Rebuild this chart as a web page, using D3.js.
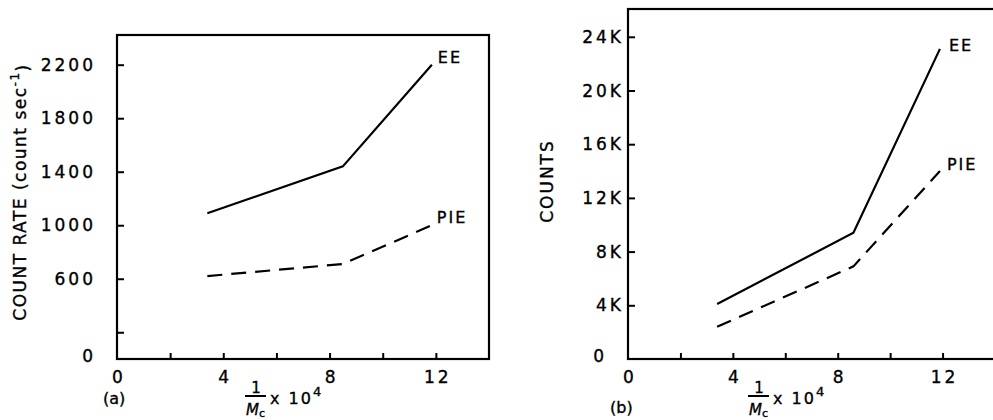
<!DOCTYPE html>
<html><head><meta charset="utf-8">
<script src="https://cdn.jsdelivr.net/npm/d3@7"></script>
<style>
body{margin:0;background:#fff}
svg{display:block}
text{font-family:"DejaVu Sans",sans-serif;fill:#000;stroke:#000;stroke-width:0.35px}
</style>
</head><body>
<svg id="c" width="993" height="420"></svg>
<script>
// ---- data ----
const xTicks = [2, 4, 6, 8, 10, 12];
const xTickLabels = [0, 4, 8, 12];

const aYTicks = [200, 600, 1000, 1400, 1800, 2200];
const aYTickLabels = [0, 600, 1000, 1400, 1800, 2200];
const aX = [3.4, 8.5, 11.85];
const aEE = [1090, 1440, 2200];
const aPIE = [620, 710, 1000];

const bYTicks = [4000, 8000, 12000, 16000, 20000, 24000];
const bYTickValues = [0, 4000, 8000, 12000, 16000, 20000, 24000];
const bYTickText = ["0", "4K", "8K", "12K", "16K", "20K", "24K"];
const bX = [3.4, 8.6, 11.9];
const bEE = [4100, 9400, 23100];
const bPIE = [2400, 6900, 14000];

const seriesNames = ["EE", "PIE"];

const svg = d3.select("#c");

function panel(cfg) {
  const x = d3.scaleLinear().domain([0, 14]).range([cfg.left, cfg.right]);
  const y = d3.scaleLinear().domain([0, cfg.yMax]).range([cfg.bottom, cfg.top]);
  const g = svg.append("g");

  // frame
  g.append("rect")
    .attr("x", cfg.left).attr("y", cfg.top)
    .attr("width", cfg.right - cfg.left).attr("height", cfg.bottom - cfg.top)
    .attr("fill", "none").attr("stroke", "#000").attr("stroke-width", 2.2);

  // y ticks (inward)
  g.append("g").attr("transform", `translate(${cfg.left},0)`)
    .call(d3.axisLeft(y).tickValues(cfg.yTicks).tickSize(-7).tickFormat(""))
    .call(s => { s.select(".domain").remove(); s.selectAll("line").attr("stroke-width", 2); });

  // x ticks (inward)
  g.append("g").attr("transform", `translate(0,${cfg.bottom})`)
    .call(d3.axisBottom(x).tickValues(xTicks).tickSize(-6).tickFormat(""))
    .call(s => { s.select(".domain").remove(); s.selectAll("line").attr("stroke-width", 2); });

  // y tick labels
  g.selectAll(".yl").data(cfg.yLabels).enter().append("text")
    .attr("x", (d, i) => cfg.left - cfg.yPad - (d.v === 0 ? cfg.zeroShift : 0))
    .attr("y", d => y(d.v) - (d.v === 0 ? 3 : 0))
    .attr("dy", "0.36em")
    .attr("text-anchor", "end")
    .attr("font-size", 17)
    .attr("letter-spacing", 3)
    .text(d => d.t);

  // x tick labels
  g.selectAll(".xl").data(xTickLabels).enter().append("text")
    .attr("x", d => x(d) + 2)
    .attr("y", 377)
    .attr("dy", "0.36em")
    .attr("text-anchor", "middle")
    .attr("font-size", 17)
    .attr("letter-spacing", 3)
    .text(d => d);

  // lines
  const line = d3.line().x(d => x(d[0])).y(d => y(d[1]));
  const ee = cfg.xs.map((v, i) => [v, cfg.ee[i]]);
  const pie = cfg.xs.map((v, i) => [v, cfg.pie[i]]);
  g.append("path").attr("d", line(ee)).attr("fill", "none")
    .attr("stroke", "#000").attr("stroke-width", 2.2);
  g.append("path").attr("d", line(pie)).attr("fill", "none")
    .attr("stroke", "#000").attr("stroke-width", 2.2)
    .attr("stroke-dasharray", "15,9");

  // series labels
  [[ee, seriesNames[0], cfg.eeOff], [pie, seriesNames[1], cfg.pieOff]].forEach(([pts, name, off]) => {
    const p = pts[pts.length - 1];
    g.append("text")
      .attr("x", x(p[0]) + off[0]).attr("y", y(p[1]) + off[1])
      .attr("dy", "0.36em").attr("font-size", 16).attr("letter-spacing", 2)
      .text(name);
  });

  // panel letter
  g.append("text").attr("x", cfg.letterPos[0]).attr("y", cfg.letterPos[1])
    .attr("dy", "0.36em").attr("font-size", 16).text(cfg.letter);

  // y axis title
  const yt = g.append("text")
    .attr("transform", `translate(${cfg.yTitlePos[0]},${cfg.yTitlePos[1]}) rotate(-90)`)
    .attr("text-anchor", "middle").attr("dy", "0.36em")
    .attr("font-size", 17).attr("letter-spacing", cfg.yTitleLS);
  cfg.yTitle(yt);

  // x axis title: 1/Mc x 10^4
  const xl = g.append("g").attr("transform", `translate(${cfg.xTitleX},0)`);
  xl.append("text").attr("x", 11).attr("y", 388).attr("dy", "0.36em")
    .attr("text-anchor", "middle").attr("font-size", 15).text("1");
  xl.append("line").attr("x1", 0).attr("x2", 21).attr("y1", 396).attr("y2", 396)
    .attr("stroke", "#000").attr("stroke-width", 2);
  const mc = xl.append("text").attr("x", 1).attr("y", 410).attr("dy", "0.36em").attr("font-size", 15);
  mc.append("tspan").attr("font-style", "italic").text("M");
  mc.append("tspan").attr("font-size", 11).attr("dy", "0.15em").text("c");
  const ten = xl.append("text").attr("x", 25).attr("y", 398).attr("dy", "0.36em")
    .attr("font-size", 16).attr("letter-spacing", 2);
  ten.append("tspan").text("x 10");
  ten.append("tspan").attr("font-size", 13).attr("dy", "-0.6em").attr("letter-spacing", 0).text("4");
}

panel({
  left: 117, right: 489, top: 35, bottom: 359, yMax: 2422,
  yTicks: aYTicks,
  yLabels: aYTickLabels.map(v => ({ v: v, t: String(v) })),
  yPad: 21, zeroShift: 0,
  xs: aX, ee: aEE, pie: aPIE,
  eeOff: [6, -7], pieOff: [5, -8],
  letter: "(a)", letterPos: [103, 398],
  yTitlePos: [20, 192], yTitleLS: 1.5,
  yTitle: t => {
    t.append("tspan").text("COUNT RATE  (count sec");
    t.append("tspan").attr("font-size", 12).attr("dy", "-0.6em").text("-1");
    t.append("tspan").attr("dy", "0.6em").text(")");
  },
  xTitleX: 245
});

panel({
  left: 628, right: 995, top: 9, bottom: 359, yMax: 26070,
  yTicks: bYTicks,
  yLabels: bYTickValues.map((v, i) => ({ v: v, t: bYTickText[i] })),
  yPad: 4, zeroShift: 17,
  xs: bX, ee: bEE, pie: bPIE,
  eeOff: [9, -4], pieOff: [7, -7],
  letter: "(b)", letterPos: [610, 407],
  yTitlePos: [547, 181], yTitleLS: 2,
  yTitle: t => t.text("COUNTS"),
  xTitleX: 748
});
</script>
</body></html>
